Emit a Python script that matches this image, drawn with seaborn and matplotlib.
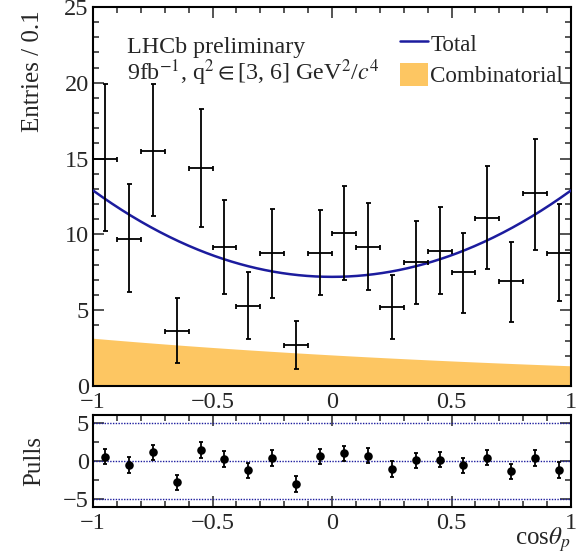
import numpy as np
import pandas as pd
import matplotlib
matplotlib.use("Agg")
import matplotlib.pyplot as plt
from matplotlib.ticker import MultipleLocator
from matplotlib.lines import Line2D
from matplotlib.patches import Patch
import seaborn as sns

# ---- data ----
bin_centers = [-0.95, -0.85, -0.75, -0.65, -0.55, -0.45, -0.35, -0.25, -0.15, -0.05,
               0.05, 0.15, 0.25, 0.35, 0.45, 0.55, 0.65, 0.75, 0.85, 0.95]
entries = [15.0, 9.7, 15.5, 3.6, 14.4, 9.2, 5.3, 8.8, 2.7, 8.8,
           10.1, 9.2, 5.2, 8.2, 8.9, 7.5, 11.1, 6.9, 12.7, 8.8]
err_low = [4.8, 3.5, 4.3, 2.1, 3.9, 3.1, 2.2, 3.0, 1.6, 2.8,
           3.1, 2.9, 2.1, 2.8, 2.8, 2.7, 3.4, 2.7, 3.7, 3.2]
err_high = [4.9, 3.6, 4.4, 2.2, 3.9, 3.1, 2.2, 2.9, 1.6, 2.8,
            3.1, 2.9, 2.1, 2.7, 2.9, 2.6, 3.4, 2.6, 3.6, 3.2]
pulls = [0.56, -0.5, 1.15, -2.8, 1.42, 0.25, -1.22, 0.4, -2.98, 0.62,
         0.98, 0.7, -1.06, 0.07, 0.17, -0.56, 0.43, -1.36, 0.37, -1.17]

# fit model: total = c0 + c2 * x^2 ; combinatorial = n * exp(s * x)
total_c0, total_c2 = 7.2, 5.7
comb_norm, comb_slope = 2.05, -0.43

bin_half_width = 0.05

# ---- style ----
sns.set_theme(style="ticks")
plt.rcParams["font.family"] = ["Liberation Serif", "DejaVu Serif"]
plt.rcParams["mathtext.fontset"] = "stix"
plt.rcParams["font.size"] = 17

navy = "#1c1c9e"
orange = "#fdc662"
TICK_FS = 17.5

df = pd.DataFrame({"x": bin_centers, "y": entries, "lo": err_low, "hi": err_high, "pull": pulls})
xs = np.linspace(-1, 1, 401)
model = pd.DataFrame({"x": xs,
                      "total": total_c0 + total_c2 * xs ** 2,
                      "comb": comb_norm * np.exp(comb_slope * xs)})

fig = plt.figure(figsize=(5.81, 5.54), dpi=100)
ax = fig.add_axes([93 / 581, 1 - 386 / 554, 478 / 581, 379 / 554])
axp = fig.add_axes([93 / 581, 1 - 507 / 554, 478 / 581, 92 / 554])


def root_ticks(a):
    a.tick_params(which="both", direction="in", top=True, right=True,
                  width=1.1, labelsize=TICK_FS, pad=3)
    a.tick_params(which="major", length=8)
    a.tick_params(which="minor", length=4)
    a.tick_params(axis="x", which="both", pad=4)
    for s in a.spines.values():
        s.set_linewidth(1.5)
        s.set_color("black")


# ---- main panel ----
ax.fill_between(model["x"], 0, model["comb"], color=orange, lw=0, zorder=1)
sns.lineplot(data=model, x="x", y="total", ax=ax, color=navy, lw=1.8, zorder=3)
ax.errorbar(df["x"], df["y"], yerr=[df["lo"], df["hi"]], xerr=bin_half_width,
            fmt="none", ecolor="black", elinewidth=1.3, capsize=1.8, capthick=1.3, zorder=4)
ax.set_xlim(-1, 1)
ax.set_ylim(0, 25)
ax.xaxis.set_minor_locator(MultipleLocator(0.1))
ax.yaxis.set_major_locator(MultipleLocator(5))
ax.yaxis.set_minor_locator(MultipleLocator(1))
ax.set_xticks([-1, -0.5, 0, 0.5, 1])
ax.set_xticklabels(["\u22121", "\u22120.5", "0", "0.5", "1"])
root_ticks(ax)
ax.set_xlabel("")
ax.set_ylabel("Entries / 0.1", fontsize=18, loc="top")
ax.yaxis.set_label_coords(-0.102, 0.99)

ax.text(0.071, 0.879, "LHCb preliminary", transform=ax.transAxes, fontsize=17.3)
ax.text(0.071, 0.807, r"9fb$^{-1}$, q$^{2}$$\in$[3, 6] GeV$^{2}$/$c^{4}$",
        transform=ax.transAxes, fontsize=17.3)

handles = [Line2D([], [], color=navy, lw=1.8),
           Patch(facecolor=orange, edgecolor="none")]
ax.legend(handles, ["Total", "Combinatorial"], loc="upper left",
          bbox_to_anchor=(0.633, 0.948), frameon=False, fontsize=16.6,
          handlelength=1.2, handleheight=1.2, handletextpad=0.1, labelspacing=0.3,
          borderaxespad=0, borderpad=0.2)

# ---- pulls panel ----
for lvl in (-5, 0, 5):
    axp.axhline(lvl, color=navy, ls=(0, (1, 1)), lw=1.0, zorder=1)
axp.errorbar(df["x"], df["pull"], yerr=1.0, fmt="none", ecolor="black",
             elinewidth=1.3, capsize=1.6, capthick=1.3, zorder=3)
sns.scatterplot(data=df, x="x", y="pull", ax=axp, color="black", s=38,
                edgecolor="black", linewidth=0, zorder=4)
axp.set_xlim(-1, 1)
axp.set_ylim(-6, 6)
axp.xaxis.set_minor_locator(MultipleLocator(0.1))
axp.yaxis.set_minor_locator(MultipleLocator(2.5))
axp.set_xticks([-1, -0.5, 0, 0.5, 1])
axp.set_xticklabels(["\u22121", "\u22120.5", "0", "0.5", "1"])
axp.set_yticks([-5, 0, 5])
axp.set_yticklabels(["\u22125", "0", "5"])
root_ticks(axp)
axp.set_ylabel("Pulls", fontsize=18)
axp.yaxis.set_label_coords(-0.1, 0.5)
axp.set_xlabel(r"cos$\theta_{p}$", fontsize=18, loc="right")
axp.xaxis.set_label_coords(1.0, -0.2)

fig.savefig("out.png", dpi=100)
